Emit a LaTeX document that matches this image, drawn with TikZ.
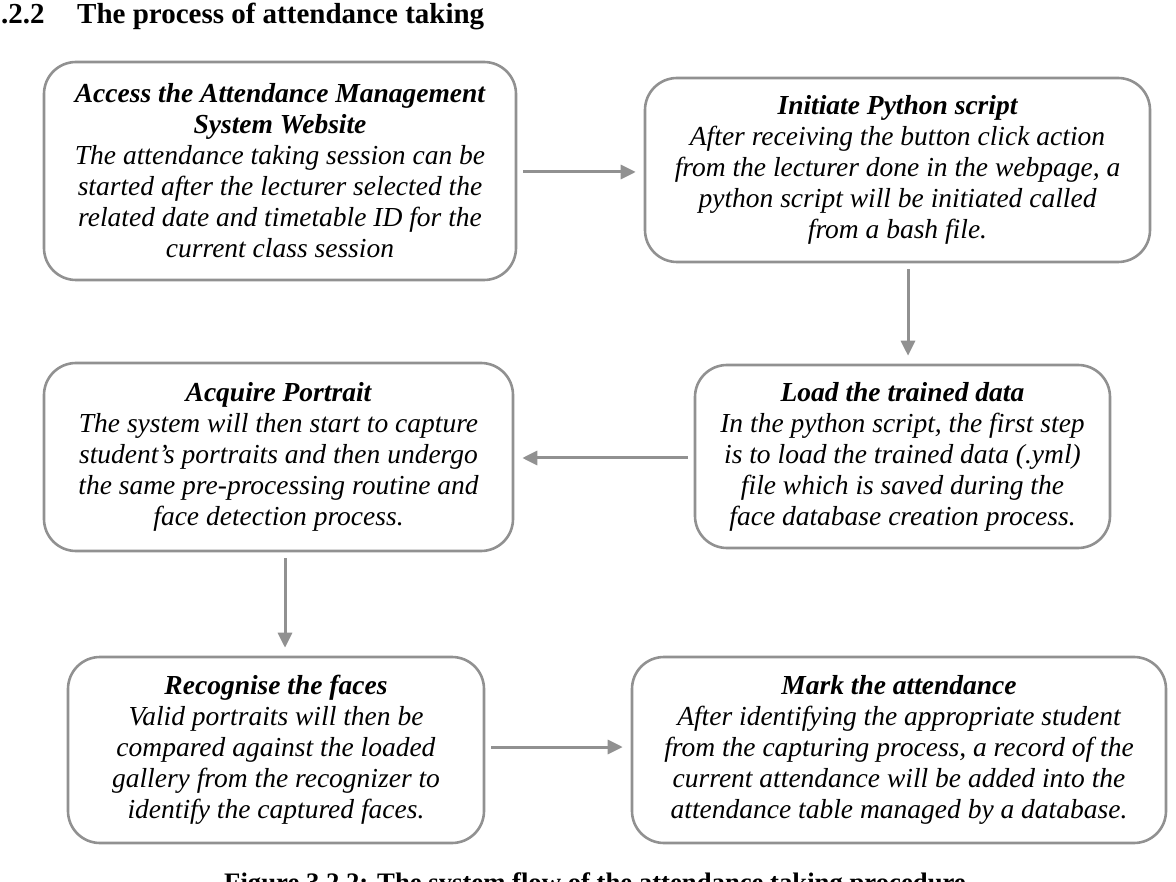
\documentclass[tikz,border=0pt]{standalone}
\usepackage{fontspec}
\setmainfont{Liberation Serif}
\usetikzlibrary{arrows.meta}
\definecolor{linegray}{RGB}{145,145,145}
\tikzset{
  flowbox/.style={draw=linegray, line width=2.6pt, rounded corners=32pt, fill=white,
    align=center, inner sep=0pt, font=\fontsize{27.5}{31}\selectfont\itshape},
  arr/.style={draw=linegray, line width=3pt,
    -{Triangle[length=15pt,width=14pt]}, shorten <=6pt, shorten >=8pt},
  headtext/.style={inner sep=0pt, anchor=base west, font=\fontsize{29}{34}\selectfont\bfseries},
  captext/.style={inner sep=0pt, anchor=base, font=\fontsize{26.7}{30}\selectfont\bfseries}
}
\begin{document}
\begin{tikzpicture}[x=1pt,y=-1pt]
\useasboundingbox (0,0) rectangle (1176,882);
\clip (0,0) rectangle (1176,882);
\node[headtext] (hnum) at (1,24) {.2.2};
\node[headtext] (htitle) at (77,24) {The process of attendance taking};

\node[flowbox, minimum width=472pt, minimum height=218pt] (A) at (280,171)
 {\textbf{Access the Attendance Management}\\ \textbf{System Website}\\
  The attendance taking session can be\\ started after the lecturer selected the\\
  related date and timetable ID for the\\ current class session};
\node[flowbox, minimum width=505pt, minimum height=184pt] (B) at (897.5,170)
 {\textbf{Initiate Python script}\\ After receiving the button click action\\
  from the lecturer done in the webpage, a\\ python script will be initiated called\\
  from a bash file.};
\node[flowbox, minimum width=415pt, minimum height=183pt] (C) at (902.5,456.5)
 {\textbf{Load the trained data}\\ In the python script, the first step\\
  is to load the trained data (.yml)\\ file which is saved during the\\
  face database creation process.};
\node[flowbox, minimum width=469pt, minimum height=188pt] (D) at (278.5,457)
 {\textbf{Acquire Portrait}\\ The system will then start to capture\\
  student's portraits and then undergo\\ the same pre-processing routine and\\
  face detection process.};
\node[flowbox, minimum width=416pt, minimum height=186pt] (E) at (276,750)
 {\textbf{Recognise the faces}\\ Valid portraits will then be\\
  compared against the loaded\\ gallery from the recognizer to\\
  identify the captured faces.};
\node[flowbox, minimum width=534pt, minimum height=186pt] (F) at (899,750)
 {\textbf{Mark the attendance}\\ After identifying the appropriate student\\
  from the capturing process, a record of the\\ current attendance will be added into the\\
  attendance table managed by a database.};

\coordinate (yab) at (0,172);
\coordinate (xbc) at (908,0);
\coordinate (ycd) at (0,458);
\coordinate (xde) at (285,0);
\coordinate (yef) at (0,747);
\draw[arr] (A.east |- yab) -- (B.west |- yab);
\draw[arr] (B.south -| xbc) -- (C.north -| xbc);
\draw[arr] (C.west |- ycd) -- (D.east |- ycd);
\draw[arr] (D.south -| xde) -- (E.north -| xde);
\draw[arr] (E.east |- yef) -- (F.west |- yef);

\node[captext] (cap) at (595,891) {Figure 3.2.2: The system flow of the attendance taking procedure};
\end{tikzpicture}
\end{document}
